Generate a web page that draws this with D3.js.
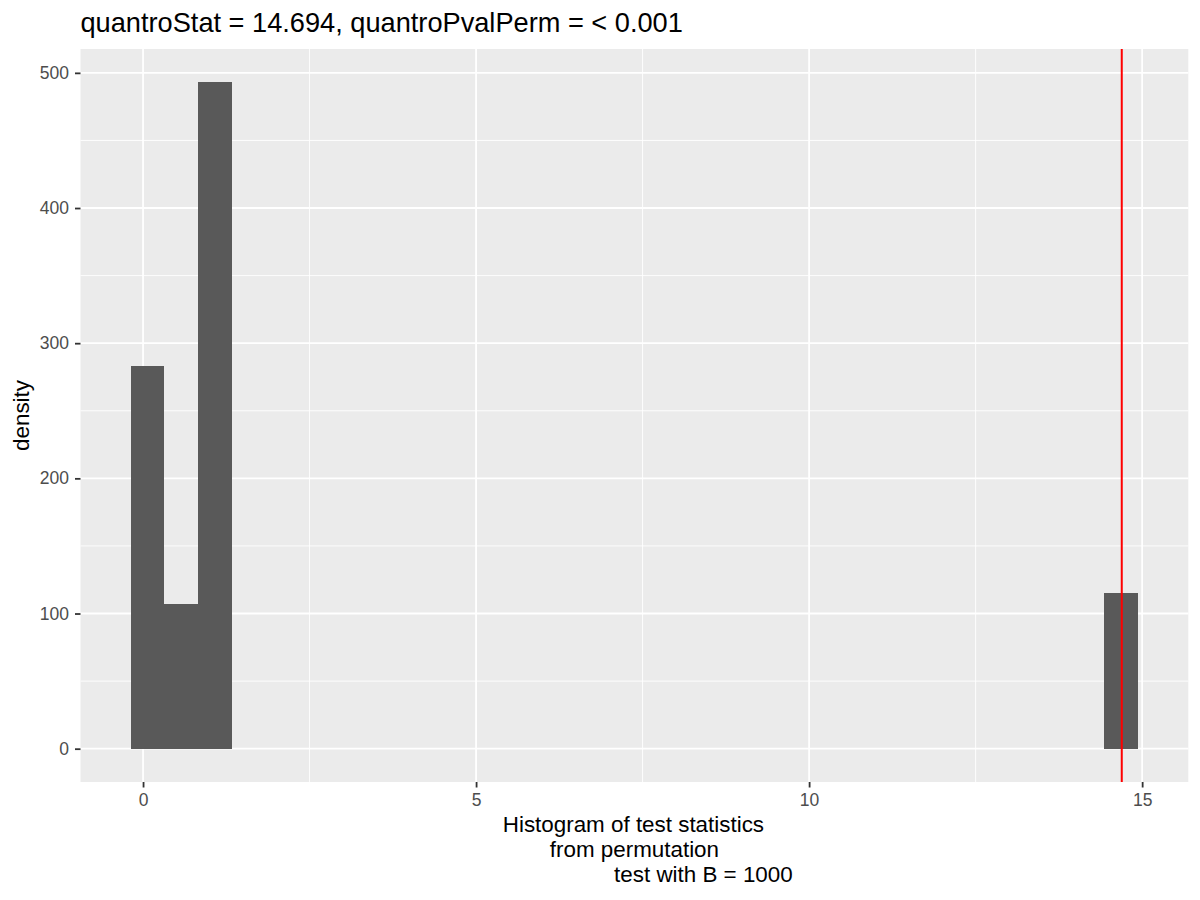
<!DOCTYPE html>
<html>
<head>
<meta charset="utf-8">
<script src="https://cdn.jsdelivr.net/npm/d3@7"></script>
<style>
    body { margin: 0; background: #fff; }
    text { font-family: "Liberation Sans", Arial, Helvetica, sans-serif; }
</style>
</head>
<body>
<div id="chart"></div>
<script>
// histogram bins that hold values (left/right edges) and their density
const binLeft = [-0.183, 0.321, 0.825, 14.433];
const binRight = [0.321, 0.825, 1.329, 14.937];
const density = [283, 107, 493, 115];

const observedStat = 14.694;
const titleText = "quantroStat = 14.694, quantroPvalPerm = < 0.001";
const yLabel = "density";
const xLabelLines = ["Histogram of test statistics", "from permutation", "test with B = 1000"];

const xTicks = [0, 5, 10, 15];
const xMinor = [2.5, 7.5, 12.5];
const yTicks = [0, 100, 200, 300, 400, 500];
const yMinor = [50, 150, 250, 350, 450];

const width = 1200, height = 900;
const panel = { left: 80.5, right: 1188.3, top: 49, bottom: 782 };

const svg = d3.select("#chart")
    .append("svg")
    .attr("width", width)
    .attr("height", height);

// ggplot style 5% expansion around data range
const xLo = d3.min(binLeft.concat([observedStat]));
const xHi = d3.max(binRight.concat([observedStat]));
const xPad = (xHi - xLo) * 0.05;
const yHi = d3.max(density);
const yPad = yHi * 0.05;

const x = d3.scaleLinear()
    .domain([xLo - xPad, xHi + xPad])
    .range([panel.left, panel.right]);
const y = d3.scaleLinear()
    .domain([-yPad, yHi + yPad])
    .range([panel.bottom, panel.top]);

// panel background
svg.append("rect")
    .attr("x", panel.left)
    .attr("y", panel.top)
    .attr("width", panel.right - panel.left)
    .attr("height", panel.bottom - panel.top)
    .attr("fill", "#EBEBEB");

// grid lines
const grid = svg.append("g").attr("class", "grid");
grid.selectAll(".x-minor").data(xMinor).enter().append("line")
    .attr("x1", d => x(d)).attr("x2", d => x(d))
    .attr("y1", panel.top).attr("y2", panel.bottom)
    .attr("stroke", "#fff").attr("stroke-width", 0.9);
grid.selectAll(".y-minor").data(yMinor).enter().append("line")
    .attr("y1", d => y(d)).attr("y2", d => y(d))
    .attr("x1", panel.left).attr("x2", panel.right)
    .attr("stroke", "#fff").attr("stroke-width", 0.9);
grid.selectAll(".x-major").data(xTicks).enter().append("line")
    .attr("x1", d => x(d)).attr("x2", d => x(d))
    .attr("y1", panel.top).attr("y2", panel.bottom)
    .attr("stroke", "#fff").attr("stroke-width", 1.8);
grid.selectAll(".y-major").data(yTicks).enter().append("line")
    .attr("y1", d => y(d)).attr("y2", d => y(d))
    .attr("x1", panel.left).attr("x2", panel.right)
    .attr("stroke", "#fff").attr("stroke-width", 1.8);

// bars
svg.selectAll(".bar")
    .data(density)
    .enter()
    .append("rect")
    .attr("class", "bar")
    .attr("x", (d, i) => x(binLeft[i]))
    .attr("width", (d, i) => x(binRight[i]) - x(binLeft[i]))
    .attr("y", d => y(d))
    .attr("height", d => y(0) - y(d))
    .attr("fill", "#595959")
    .attr("shape-rendering", "crispEdges");

// observed statistic
svg.append("line")
    .attr("x1", x(observedStat)).attr("x2", x(observedStat))
    .attr("y1", panel.top).attr("y2", panel.bottom)
    .attr("stroke", "#FF0000")
    .attr("stroke-width", 2);

// axes
const xAxis = svg.append("g")
    .attr("transform", `translate(0, ${panel.bottom})`)
    .call(d3.axisBottom(x).tickValues(xTicks).tickSize(5.5).tickPadding(6.5).tickFormat(d3.format("d")));
const yAxis = svg.append("g")
    .attr("transform", `translate(${panel.left}, 0)`)
    .call(d3.axisLeft(y).tickValues(yTicks).tickSize(5.5).tickPadding(6).tickFormat(d3.format("d")));

[xAxis, yAxis].forEach(ax => {
    ax.select(".domain").remove();
    ax.selectAll(".tick line").attr("stroke", "#333333").attr("stroke-width", 1.8);
    ax.selectAll(".tick text")
        .attr("fill", "#4D4D4D")
        .attr("font-size", "17.5px")
        .style("font-family", "'Liberation Sans', Arial, sans-serif");
});

// title
svg.append("text")
    .attr("x", panel.left)
    .attr("y", 31.7)
    .attr("font-size", "27.2px")
    .attr("fill", "#000")
    .text(titleText);

// y label
svg.append("text")
    .attr("transform", `translate(29, ${(panel.top + panel.bottom) / 2}) rotate(-90)`)
    .attr("text-anchor", "middle")
    .attr("font-size", "22.4px")
    .attr("fill", "#000")
    .text(yLabel);

// x label, three lines (last one indented in the original)
const cx = (panel.left + panel.right) / 2;
const xLabelOffsets = [-1, 0, 69];
svg.selectAll(".x-label")
    .data(xLabelLines)
    .enter()
    .append("text")
    .attr("class", "x-label")
    .attr("x", (d, i) => cx + xLabelOffsets[i])
    .attr("y", (d, i) => 832 + i * 25)
    .attr("text-anchor", "middle")
    .attr("font-size", "22.4px")
    .attr("fill", "#000")
    .text(d => d);
</script>
</body>
</html>
